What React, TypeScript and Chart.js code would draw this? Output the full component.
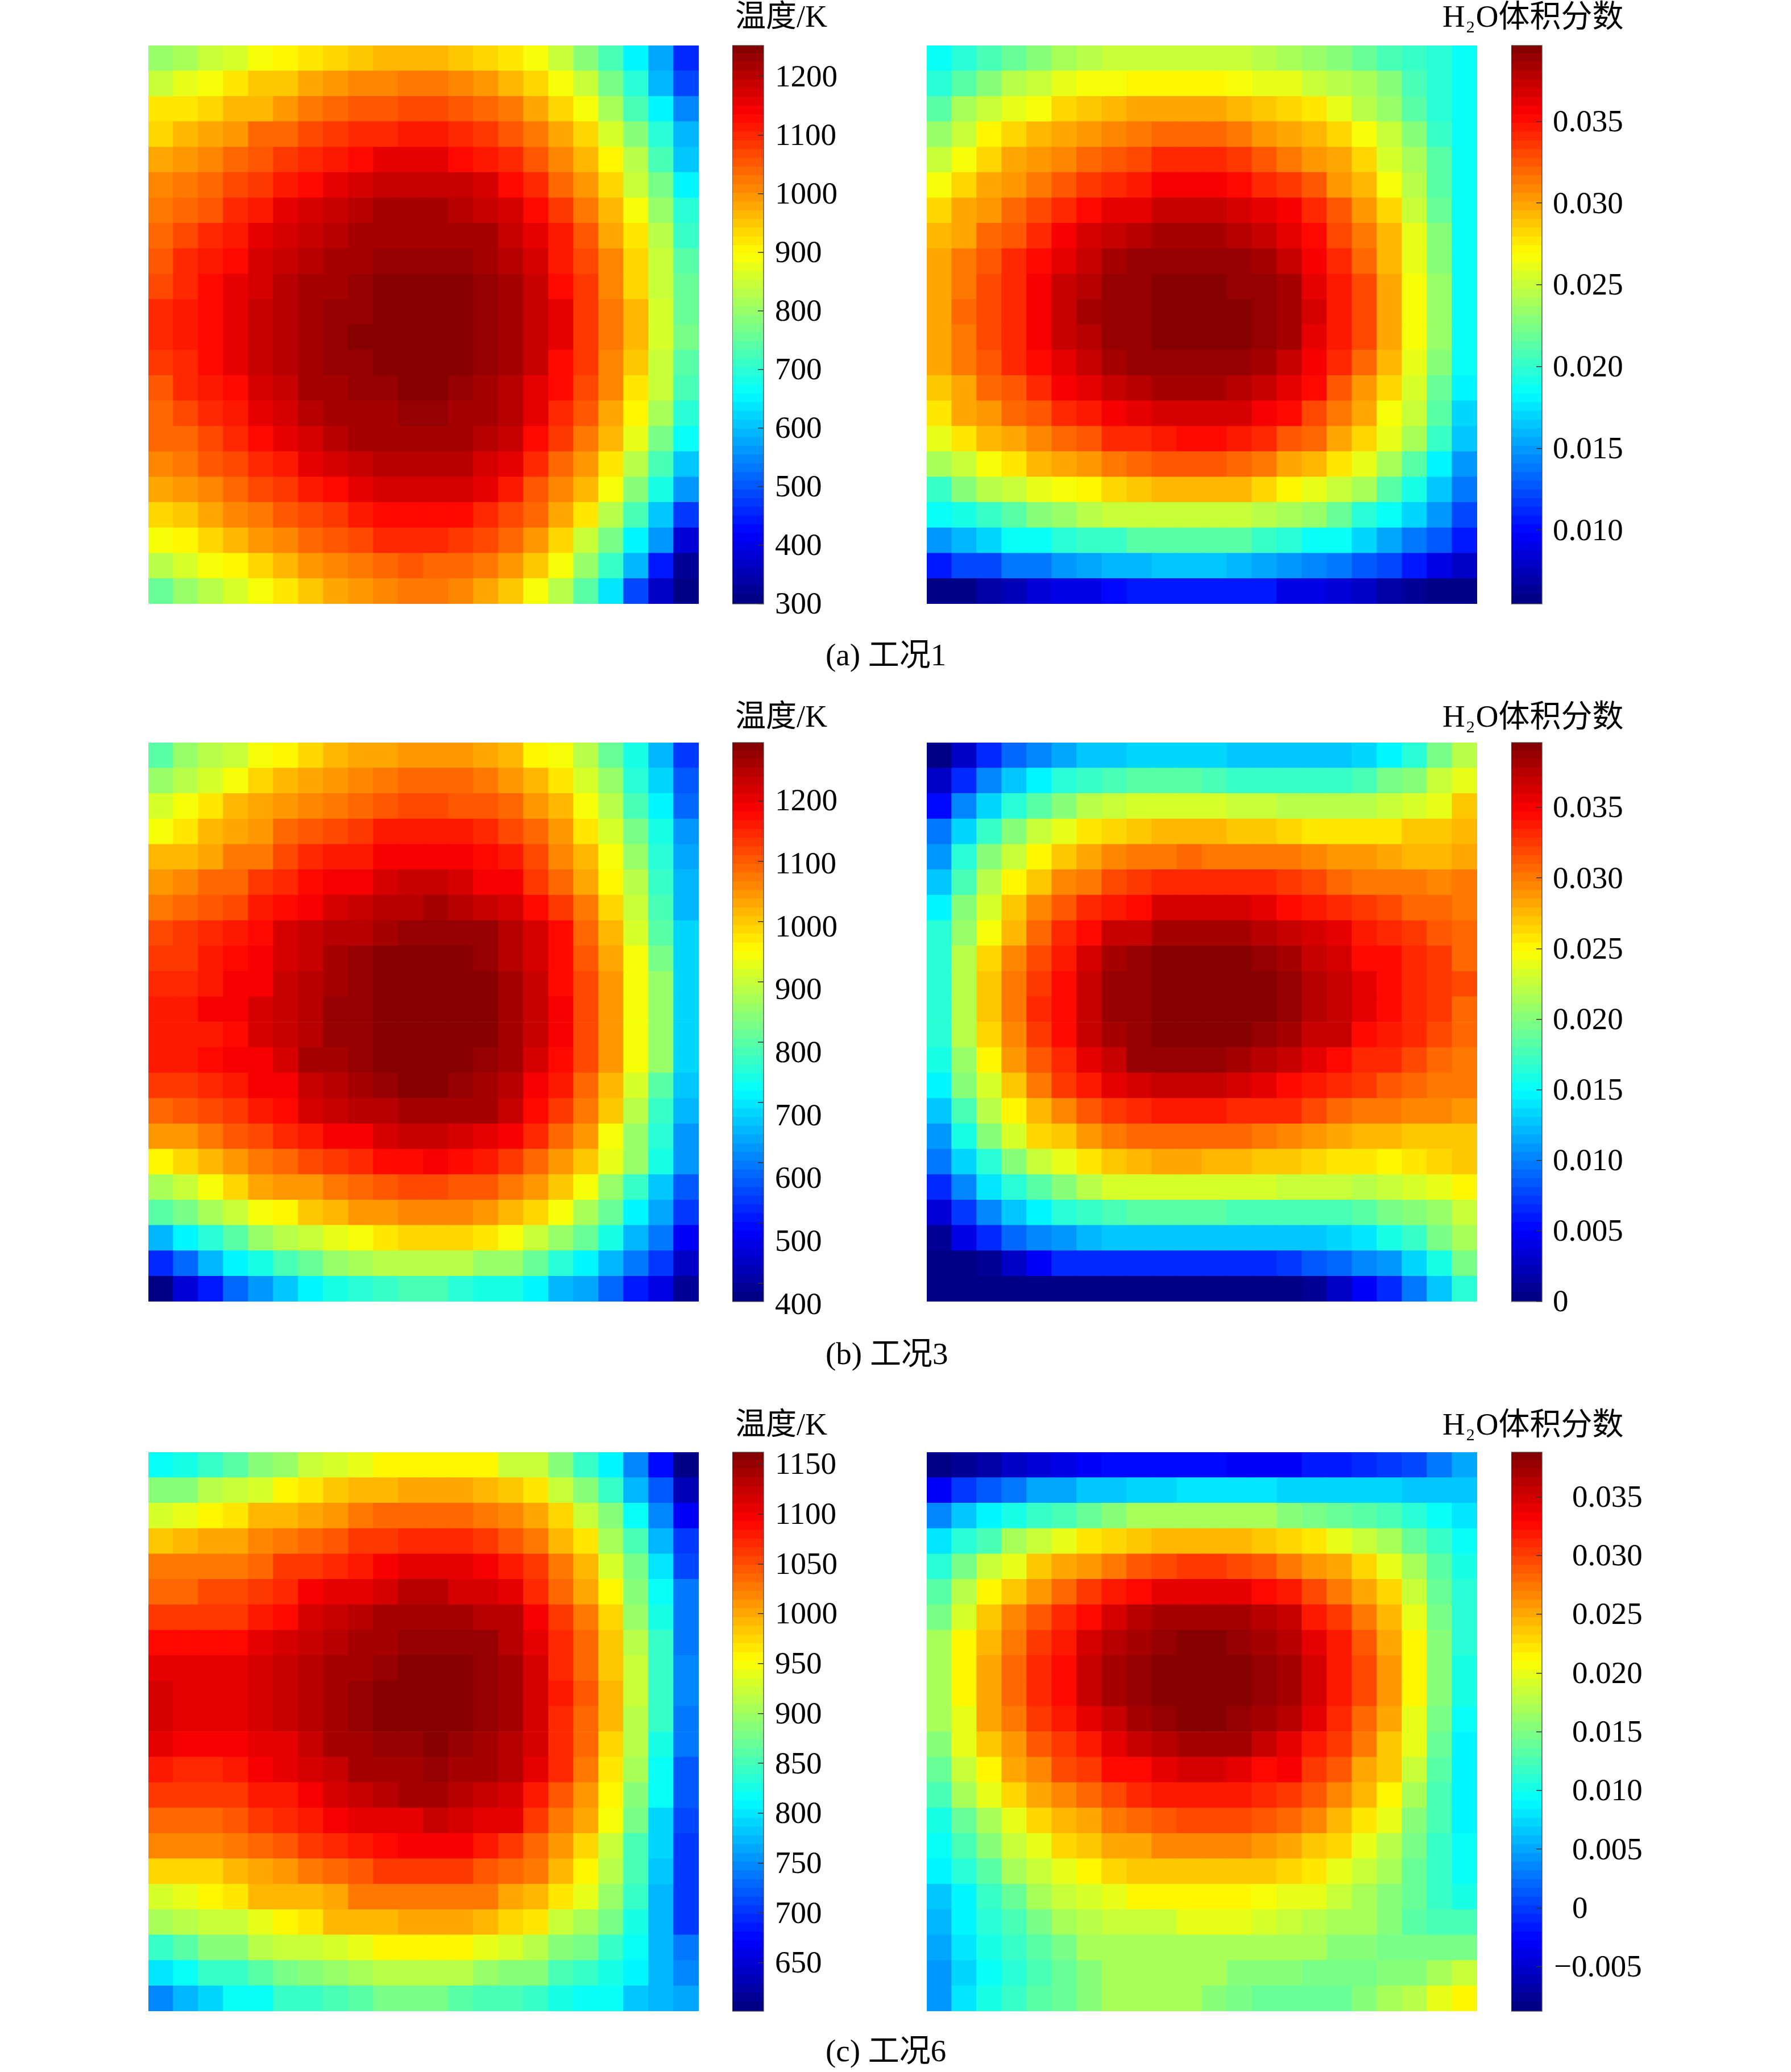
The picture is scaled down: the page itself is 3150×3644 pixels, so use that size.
import React, { useEffect, useRef } from "react";
import { Chart, registerables } from "chart.js";

Chart.register(...registerables);

// Temperature in K, rows listed top to bottom, columns left to right
const tempCase1 = [
  [805,815,845,860,885,900,925,935,950,960,960,960,950,935,925,895,850,790,725,657,570,455],
  [845,880,895,915,945,950,975,990,1000,1010,1025,1025,1010,990,960,935,895,850,775,690,590,490],
  [915,925,935,955,965,985,1020,1030,1045,1045,1060,1060,1045,1035,1020,975,935,895,815,725,657,540],
  [935,955,975,990,1030,1040,1060,1075,1090,1090,1115,1115,1095,1075,1045,1020,975,935,865,790,690,585],
  [975,990,1010,1040,1050,1080,1095,1115,1130,1150,1150,1150,1133,1115,1095,1050,1005,955,910,825,725,610],
  [1000,1015,1040,1060,1080,1115,1133,1150,1165,1180,1180,1180,1180,1165,1133,1095,1040,990,935,850,775,650],
  [1020,1040,1055,1095,1115,1150,1165,1180,1195,1208,1208,1208,1195,1180,1165,1133,1075,1020,960,895,805,690],
  [1040,1060,1095,1115,1150,1165,1180,1195,1208,1215,1215,1215,1215,1215,1190,1160,1115,1050,975,915,830,705],
  [1055,1095,1110,1130,1165,1180,1195,1208,1215,1228,1228,1228,1228,1220,1195,1165,1110,1060,1005,930,845,745],
  [1065,1095,1130,1150,1165,1195,1208,1220,1230,1250,1250,1250,1240,1235,1208,1180,1130,1075,1005,935,850,760],
  [1100,1110,1133,1150,1180,1195,1208,1230,1230,1250,1250,1250,1250,1235,1208,1180,1150,1085,1020,955,865,760],
  [1100,1110,1130,1150,1180,1195,1222,1232,1245,1250,1250,1250,1250,1235,1208,1180,1150,1085,1020,955,865,770],
  [1075,1095,1133,1150,1180,1195,1215,1225,1235,1250,1250,1250,1250,1235,1208,1180,1133,1075,1010,945,850,745],
  [1055,1095,1115,1133,1165,1180,1208,1220,1230,1230,1250,1250,1230,1220,1205,1160,1133,1060,1010,925,840,725],
  [1040,1070,1095,1115,1150,1165,1195,1208,1220,1220,1232,1232,1220,1208,1195,1150,1095,1050,975,900,820,690],
  [1030,1040,1070,1095,1133,1150,1165,1195,1208,1208,1220,1220,1208,1195,1180,1130,1080,1020,955,875,775,665],
  [1000,1015,1050,1060,1095,1115,1150,1165,1180,1195,1195,1195,1195,1165,1160,1095,1040,990,925,835,725,610],
  [975,985,1010,1035,1065,1080,1115,1133,1150,1165,1165,1165,1165,1150,1115,1055,1005,955,885,790,680,555],
  [930,945,980,1005,1020,1050,1070,1085,1105,1133,1133,1133,1133,1095,1070,1035,980,925,835,725,610,475],
  [895,910,935,955,990,1005,1035,1055,1070,1090,1090,1090,1080,1060,1030,990,935,850,775,655,555,380],
  [835,865,885,900,940,955,985,1005,1020,1040,1045,1040,1040,1020,990,945,895,805,705,585,445,320],
  [760,805,835,865,895,920,945,975,985,1005,1020,1020,1005,975,945,895,835,745,640,490,370,300],
];

// H2O volume fraction in units of 1e-4
const h2oCase1 = [
  [188,197,208,220,226,237,243,248,249,249,249,249,249,246,240,231,226,220,208,204,194,188],
  [198,214,226,243,252,258,263,266,271,272,272,272,268,262,258,252,243,237,226,208,198,183],
  [210,237,250,258,268,280,286,290,295,295,295,295,292,286,280,274,262,246,231,210,198,183],
  [232,252,269,280,290,295,303,308,314,317,317,317,311,305,300,290,280,264,248,226,204,183],
  [250,268,280,295,303,308,319,325,332,338,338,338,333,327,311,303,295,280,254,237,210,183],
  [265,280,295,303,311,325,335,341,346,354,354,354,350,343,333,322,305,290,268,243,214,183],
  [279,295,303,319,332,343,350,360,364,371,371,371,366,360,354,338,322,303,279,250,220,183],
  [292,300,317,327,343,354,366,372,377,383,383,383,378,372,360,350,332,314,290,258,226,183],
  [297,311,322,338,350,360,372,383,386,391,391,391,387,383,372,354,338,320,290,261,226,183],
  [300,314,330,343,354,371,378,388,391,396,396,396,391,386,381,360,344,328,297,264,231,183],
  [300,317,330,343,354,373,383,388,391,396,396,396,396,386,381,366,344,328,297,264,231,183],
  [300,314,330,343,354,371,378,388,391,396,396,396,392,386,381,360,344,328,297,264,231,183],
  [297,311,322,338,350,360,372,383,386,391,391,391,387,383,373,354,338,320,292,258,226,183],
  [289,300,317,327,343,354,360,372,378,383,383,383,380,372,360,350,327,305,279,254,220,178],
  [276,295,303,317,327,338,347,354,360,366,366,366,366,354,350,330,314,295,268,248,214,172],
  [258,274,290,295,308,319,327,338,343,347,350,350,347,338,327,317,297,280,258,237,204,162],
  [240,252,264,276,290,297,305,311,319,325,325,325,320,314,300,290,276,258,237,210,178,146],
  [204,226,243,250,258,268,271,280,286,292,292,292,290,280,271,261,250,237,210,192,162,135],
  [183,192,203,214,226,231,243,248,252,252,252,252,250,246,237,231,220,198,183,170,146,124],
  [146,157,167,183,188,194,199,204,210,210,210,210,210,204,194,188,183,170,151,140,129,108],
  [108,119,124,135,140,146,151,157,157,162,162,162,157,154,146,143,140,129,119,108,92,80],
  [55,60,66,75,85,87,92,100,104,108,108,108,108,104,92,87,85,80,66,62,60,57],
];

const tempCase3 = [
  [804,848,877,905,935,957,992,1007,1022,1030,1036,1036,1036,1022,1007,957,935,877,818,746,645,543],
  [862,891,920,949,992,1007,1022,1050,1058,1072,1080,1080,1080,1065,1036,1007,970,920,848,760,680,572],
  [920,935,970,1007,1030,1036,1058,1072,1087,1101,1116,1116,1101,1094,1080,1050,1015,949,877,789,703,586],
  [945,978,1007,1022,1050,1080,1094,1116,1130,1152,1152,1152,1152,1138,1109,1080,1036,978,920,833,732,623],
  [1007,1015,1030,1065,1072,1109,1138,1152,1160,1181,1195,1195,1181,1167,1152,1109,1058,1007,949,862,760,631],
  [1036,1058,1080,1087,1123,1138,1167,1181,1195,1210,1225,1225,1212,1195,1181,1130,1087,1030,957,877,775,645],
  [1072,1087,1101,1116,1152,1167,1181,1212,1230,1246,1246,1262,1246,1230,1212,1167,1123,1065,992,898,789,659],
  [1109,1123,1138,1152,1167,1210,1230,1239,1246,1262,1268,1268,1268,1268,1239,1210,1167,1087,1015,912,804,688],
  [1130,1130,1152,1167,1181,1212,1230,1262,1268,1283,1283,1283,1283,1270,1246,1212,1167,1101,1030,942,833,688],
  [1145,1145,1160,1181,1195,1230,1246,1262,1268,1283,1297,1297,1297,1285,1262,1230,1167,1116,1036,942,848,688],
  [1160,1160,1181,1195,1212,1230,1246,1268,1270,1297,1297,1297,1297,1285,1262,1235,1181,1116,1036,935,862,688],
  [1152,1160,1160,1175,1212,1230,1246,1268,1270,1290,1297,1297,1297,1285,1262,1235,1181,1116,1036,935,862,688],
  [1152,1152,1167,1181,1195,1212,1255,1262,1270,1285,1297,1297,1285,1270,1255,1212,1167,1116,1050,935,848,688],
  [1123,1123,1138,1152,1181,1195,1230,1246,1262,1270,1285,1285,1270,1262,1246,1195,1152,1087,1015,920,804,665],
  [1087,1101,1116,1130,1160,1167,1212,1230,1239,1246,1262,1262,1262,1255,1230,1167,1123,1065,1000,884,775,645],
  [1036,1050,1072,1101,1116,1138,1152,1181,1195,1212,1230,1230,1212,1205,1181,1138,1087,1036,949,862,760,623],
  [957,992,1007,1036,1065,1087,1109,1130,1145,1167,1167,1181,1167,1152,1123,1087,1043,1000,928,848,732,616],
  [870,898,935,992,1022,1036,1050,1072,1080,1101,1116,1116,1101,1094,1072,1036,1000,942,862,775,673,572],
  [804,833,870,898,935,957,1000,1015,1036,1050,1058,1058,1058,1043,1015,985,935,870,818,710,631,543],
  [659,717,760,804,848,877,898,928,949,970,985,985,985,970,935,898,862,818,746,659,601,473],
  [528,586,645,703,746,789,818,848,870,884,891,891,877,862,848,818,760,717,659,601,543,440],
  [370,445,500,586,616,665,717,746,760,775,789,789,760,746,732,717,659,631,586,514,465,385],
];

const h2oCase3 = [
  [0,30,62,87,105,115,127,127,133,130,130,130,127,124,124,124,127,133,148,167,192,220],
  [28,68,102,124,148,161,173,179,185,185,185,179,173,173,173,173,173,179,192,204,223,241],
  [55,102,133,167,185,204,217,223,229,229,229,229,226,223,217,217,217,217,223,229,241,266],
  [93,136,173,198,223,241,254,263,269,275,275,275,269,269,263,254,254,254,254,266,272,278],
  [111,161,198,223,248,272,281,291,300,303,309,303,303,297,297,291,285,285,281,278,278,281],
  [127,179,217,248,272,291,303,316,322,331,331,331,331,328,322,316,309,303,303,297,294,297],
  [148,198,229,266,294,312,328,340,343,359,359,359,359,353,346,340,334,322,316,309,309,303],
  [161,210,245,278,306,334,346,366,371,381,381,381,381,374,366,359,353,340,328,322,312,306],
  [167,217,260,291,319,337,360,381,384,390,390,390,390,384,381,366,363,346,346,328,322,306],
  [167,220,266,297,322,346,368,384,387,396,396,396,396,393,387,376,366,356,346,328,322,316],
  [167,220,266,297,331,346,368,384,387,396,396,396,396,393,387,376,366,356,346,328,322,309],
  [167,217,260,294,322,346,368,382,384,390,396,390,390,384,382,368,366,346,340,328,316,309],
  [155,210,248,285,312,334,353,366,384,387,387,387,381,376,366,353,346,334,328,316,309,303],
  [148,198,235,266,297,322,340,353,360,366,366,366,361,353,346,340,328,322,312,306,300,297],
  [127,179,220,248,278,294,312,325,334,340,340,340,334,334,328,316,309,303,297,291,291,285],
  [108,155,198,229,260,272,288,300,309,309,309,309,309,303,294,288,281,278,278,272,272,272],
  [93,136,167,198,223,241,257,269,275,281,281,275,275,269,269,263,254,254,248,257,260,266],
  [68,102,139,167,185,204,217,229,232,235,235,235,229,229,226,226,226,217,223,229,238,248],
  [37,74,102,124,148,161,173,179,185,185,185,185,179,179,179,179,179,185,192,198,210,226],
  [12,40,68,87,99,108,120,127,127,127,127,127,127,127,127,127,133,142,155,173,192,214],
  [0,0,12,25,44,62,68,68,68,68,68,68,68,68,71,81,87,102,111,130,155,192],
  [0,0,0,0,0,0,0,0,0,0,0,0,0,0,6,12,28,48,68,93,124,161],
];

const tempCase6 = [
  [820,829,846,864,882,899,917,930,942,952,960,960,960,955,925,917,890,846,803,746,680,601],
  [882,890,908,921,934,952,965,982,987,995,1004,1004,1004,995,982,965,921,890,846,776,724,635],
  [930,942,952,969,987,991,1004,1013,1030,1035,1039,1039,1039,1030,1018,1000,973,921,882,812,750,663],
  [982,991,1000,1004,1018,1026,1039,1048,1057,1065,1074,1074,1074,1065,1048,1030,995,965,903,855,776,698],
  [1022,1022,1022,1030,1039,1057,1065,1074,1083,1092,1101,1101,1101,1092,1078,1057,1022,987,930,873,798,715],
  [1039,1039,1052,1052,1065,1074,1092,1101,1109,1118,1127,1127,1118,1110,1109,1074,1035,1004,952,890,812,733],
  [1065,1065,1065,1065,1078,1088,1110,1120,1127,1136,1144,1144,1140,1130,1127,1092,1057,1022,978,899,829,741],
  [1088,1088,1088,1088,1101,1110,1120,1127,1140,1144,1153,1153,1153,1148,1131,1101,1074,1035,982,908,838,741],
  [1109,1101,1101,1101,1110,1120,1130,1140,1144,1153,1162,1162,1162,1153,1140,1110,1074,1035,982,917,846,746],
  [1118,1109,1109,1109,1118,1123,1127,1144,1148,1162,1162,1162,1162,1153,1138,1110,1078,1043,987,917,846,746],
  [1118,1109,1109,1109,1118,1123,1130,1140,1153,1157,1162,1162,1162,1153,1138,1110,1074,1035,987,912,838,733],
  [1109,1092,1092,1092,1101,1109,1123,1138,1144,1153,1153,1162,1153,1144,1131,1110,1074,1035,973,908,829,741],
  [1083,1074,1074,1083,1092,1101,1110,1120,1138,1144,1144,1153,1144,1140,1127,1101,1074,1030,969,903,820,724],
  [1061,1057,1057,1065,1078,1083,1092,1110,1120,1127,1136,1136,1127,1120,1110,1083,1048,1013,960,890,812,724],
  [1035,1035,1035,1048,1061,1069,1078,1092,1101,1109,1109,1123,1118,1109,1101,1065,1030,1000,943,873,794,715],
  [1018,1018,1018,1026,1035,1048,1061,1069,1078,1088,1092,1092,1092,1083,1065,1039,1009,973,921,855,790,706],
  [978,978,978,991,1000,1013,1030,1039,1048,1057,1065,1065,1057,1048,1039,1022,991,952,908,855,781,702],
  [934,942,952,969,987,991,995,1004,1022,1022,1030,1030,1030,1022,1004,987,969,938,899,838,772,706],
  [903,908,917,921,942,952,965,987,991,991,1000,1000,1000,991,973,965,925,903,873,829,768,706],
  [846,864,882,890,908,917,921,930,942,955,955,955,955,942,930,912,890,873,838,812,768,733],
  [798,812,838,846,864,873,890,899,903,908,908,908,908,899,890,882,855,846,829,803,776,750],
  [750,768,794,812,820,838,846,855,864,873,873,873,864,855,855,846,829,820,812,785,776,763],
];

const h2oCase6 = [
  [-88,-80,-70,-58,-50,-38,-35,-28,-28,-28,-28,-28,-35,-35,-35,-20,-14,-7,1,8,27,46],
  [-30,1,16,31,46,53,65,65,72,72,83,83,83,83,75,75,75,75,75,68,68,65],
  [35,61,90,105,120,127,142,157,165,165,172,172,165,165,157,150,142,135,127,112,97,83],
  [83,112,127,165,184,202,217,228,236,243,243,243,243,236,228,217,202,184,165,142,120,97],
  [112,150,180,202,236,247,258,269,288,292,299,299,292,284,273,258,247,228,202,172,135,105],
  [135,176,210,239,258,277,303,318,324,336,336,336,336,328,314,295,273,250,228,184,142,112],
  [150,191,239,262,284,307,328,345,362,369,369,369,369,362,354,321,299,269,243,199,150,112],
  [165,210,243,269,299,318,345,362,373,380,388,388,380,373,364,336,314,284,250,210,157,112],
  [168,210,250,277,307,328,352,367,380,388,388,388,388,380,367,345,321,292,258,210,157,105],
  [168,210,250,277,307,328,352,367,380,388,388,388,388,380,367,345,321,292,258,210,157,105],
  [165,202,247,273,299,318,343,358,373,376,383,383,376,373,362,336,310,280,250,202,150,97],
  [157,195,232,258,284,303,321,343,354,364,369,369,369,354,343,321,303,273,236,195,142,90],
  [142,184,210,247,265,292,303,324,328,336,345,345,343,328,335,303,288,254,232,184,135,87],
  [127,165,195,225,247,265,280,295,310,314,321,321,314,310,303,284,262,243,210,168,127,90],
  [105,142,172,202,225,243,254,269,277,284,292,292,292,288,280,262,243,221,199,157,127,90],
  [97,127,157,184,202,225,239,250,254,265,265,265,265,258,250,239,228,202,176,150,120,97],
  [87,112,135,165,184,195,210,225,236,236,239,239,239,232,225,217,202,184,172,142,120,97],
  [65,90,120,142,165,184,191,202,210,210,210,210,210,208,202,195,187,172,157,142,120,105],
  [57,90,112,127,150,165,176,184,187,187,195,195,195,191,184,176,165,165,157,135,127,127],
  [46,79,105,120,135,150,165,168,172,172,172,172,172,172,165,165,157,157,150,150,150,150],
  [42,72,97,112,127,142,157,165,165,165,165,165,157,157,157,150,150,150,157,157,168,184],
  [42,79,105,120,135,142,157,165,165,165,165,157,150,142,142,142,142,157,165,176,195,210],
];

// Colour bars: scale range, tick values and tick labels
const tempRange1 = [300, 1252.6];
const tempTicks1 = [300, 400, 500, 600, 700, 800, 900, 1000, 1100, 1200];
const tempLabels1 = ["300", "400", "500", "600", "700", "800", "900", "1000", "1100", "1200"];
const h2oRange1 = [54.8, 396.4];
const h2oTicks1 = [100, 150, 200, 250, 300, 350];
const h2oLabels1 = ["0.010", "0.015", "0.020", "0.025", "0.030", "0.035"];
const tempRange3 = [369.6, 1296.7];
const tempTicks3 = [400, 500, 600, 700, 800, 900, 1000, 1100, 1200];
const tempLabels3 = ["400", "500", "600", "700", "800", "900", "1000", "1100", "1200"];
const tempLabelRange3 = [403.7, 1292];
const h2oRange3 = [0, 395.9];
const h2oTicks3 = [0, 50, 100, 150, 200, 250, 300, 350];
const h2oLabels3 = ["0", "0.005", "0.010", "0.015", "0.020", "0.025", "0.030", "0.035"];
const tempRange6 = [601.5, 1161.9];
const tempTicks6 = [650, 700, 750, 800, 850, 900, 950, 1000, 1050, 1100, 1150];
const tempLabels6 = ["650", "700", "750", "800", "850", "900", "950", "1000", "1050", "1100", "1150"];
const h2oRange6 = [-87.8, 387.9];
const h2oTicks6 = [-50, 0, 50, 100, 150, 200, 250, 300, 350];
const ALIGN = "\u2002\u200a";
const h2oLabels6 = ["\u22120.005", ALIGN + "0", ALIGN + "0.005", ALIGN + "0.010", ALIGN + "0.015", ALIGN + "0.020", ALIGN + "0.025", ALIGN + "0.030", ALIGN + "0.035"];

const LEVELS = 64;
const SERIF = '"Liberation Serif", "Noto Sans CJK SC", serif';

function jet(level: number) {
  const t = (level + 0.5) / LEVELS;
  const ch = (c: number) => Math.round(255 * Math.min(1, Math.max(0, 1.5 - Math.abs(4 * t - c))));
  return `rgb(${ch(3)},${ch(2)},${ch(1)})`;
}

function levelOf(v: number, lo: number, hi: number) {
  return Math.min(LEVELS - 1, Math.max(0, Math.floor(((v - lo) / (hi - lo)) * LEVELS)));
}

function HeatMap({ grid, range, left, top, width, height }: any) {
  const ref = useRef<HTMLCanvasElement>(null);
  useEffect(() => {
    const points: any[] = [];
    const colors: string[] = [];
    grid.forEach((row: number[], r: number) =>
      row.forEach((v: number, c: number) => {
        points.push({ x: c + 0.5, y: r + 0.5 });
        colors.push(jet(levelOf(v, range[0], range[1])));
      })
    );
    const side = Math.max(width / grid[0].length, height / grid.length) + 0.7;
    const chart = new Chart(ref.current as HTMLCanvasElement, {
      type: "scatter",
      data: {
        datasets: [
          {
            data: points,
            pointStyle: "rect",
            pointRadius: (side / 2) * Math.SQRT2,
            pointBorderWidth: 0,
            pointBackgroundColor: colors,
          } as any,
        ],
      },
      options: {
        animation: false,
        responsive: false,
        devicePixelRatio: 1,
        layout: { padding: 0, autoPadding: false },
        plugins: { legend: { display: false }, tooltip: { enabled: false } },
        scales: {
          x: { type: "linear", min: 0, max: grid[0].length, display: false },
          y: { type: "linear", min: 0, max: grid.length, reverse: true, display: false },
        },
      },
    });
    return () => chart.destroy();
  }, []);
  return <canvas ref={ref} width={width} height={height} style={{ position: "absolute", left, top, width, height }} />;
}

const framePlugin = {
  id: "frame",
  afterDraw(chart: any) {
    const { ctx, chartArea: a } = chart;
    ctx.save();
    ctx.strokeStyle = "rgba(70,70,70,0.85)";
    ctx.lineWidth = 1.5;
    ctx.strokeRect(a.left, a.top, a.right - a.left, a.bottom - a.top);
    ctx.restore();
  },
};

const MARGIN = 60;
const LABEL_W = 200;
const LABEL_DROP = 3;

function ColorBar({ range, ticks, labels, labelRange, left, top, width, height, padding }: any) {
  const ref = useRef<HTMLCanvasElement>(null);
  const lr0 = labelRange || range;
  const drop = (LABEL_DROP * (lr0[1] - lr0[0])) / height;
  const lr = [lr0[0] + drop, lr0[1] + drop];
  useEffect(() => {
    const step = (range[1] - range[0]) / LEVELS;
    const datasets = Array.from({ length: LEVELS }, (_, k) => ({
      data: [[range[0] + k * step, range[0] + (k + 1.1) * step]],
      backgroundColor: jet(k),
      borderWidth: 0,
      grouped: false,
      barPercentage: 1,
      categoryPercentage: 1,
      yAxisID: "y",
    }));
    const setTicks = (s: any) => {
      s.ticks = ticks.map((value: number) => ({ value }));
    };
    const chart = new Chart(ref.current as HTMLCanvasElement, {
      type: "bar",
      data: { labels: [""], datasets: datasets as any },
      options: {
        animation: false,
        responsive: false,
        devicePixelRatio: 1,
        layout: { padding: { top: MARGIN, bottom: MARGIN, left: 0, right: 0 }, autoPadding: false },
        plugins: { legend: { display: false }, tooltip: { enabled: false } },
        scales: {
          x: { display: false },
          y: {
            type: "linear",
            position: "right",
            weight: 0,
            min: range[0],
            max: range[1],
            afterBuildTicks: setTicks,
            afterFit: (s: any) => {
              s.width = 0;
            },
            border: { display: false },
            ticks: { display: false, autoSkip: false },
            grid: { z: 1, drawOnChartArea: false, tickLength: -10, color: "#333", lineWidth: 1.5 },
          },
          yl: {
            axis: "y",
            type: "linear",
            position: "right",
            weight: 1,
            min: lr[0],
            max: lr[1],
            afterBuildTicks: setTicks,
            afterFit: (s: any) => {
              s.width = LABEL_W;
            },
            border: { display: false },
            grid: { display: false, drawTicks: false },
            ticks: {
              autoSkip: false,
              padding,
              color: "#000",
              font: { family: SERIF, size: 55 },
              maxRotation: 0,
              callback: (_v: any, i: number) => labels[i],
            },
          },
        } as any,
      },
      plugins: [framePlugin],
    });
    return () => chart.destroy();
  }, []);
  return (
    <canvas
      ref={ref}
      width={width + LABEL_W}
      height={height + 2 * MARGIN}
      style={{ position: "absolute", left, top: top - MARGIN, width: width + LABEL_W, height: height + 2 * MARGIN }}
    />
  );
}

const textStyle: React.CSSProperties = {
  position: "absolute",
  fontFamily: SERIF,
  fontSize: 54,
  lineHeight: "54px",
  color: "#000",
  whiteSpace: "nowrap",
};

function H2OTitle({ top }: { top: number }) {
  return (
    <div style={{ ...textStyle, fontSize: 55, left: 2537, top }}>
      H<span style={{ fontSize: 30, position: "relative", top: 10, margin: "0 2px" }}>2</span>O体积分数
    </div>
  );
}

const ROWS = [
  { top: 80, height: 982, titleTop: 2, captionTop: 1125, caption: "(a) 工况1", temp: tempCase1, h2o: h2oCase1, tr: tempRange1, tt: tempTicks1, tl: tempLabels1, tlr: null, hr: h2oRange1, ht: h2oTicks1, hl: h2oLabels1, hp: 19 },
  { top: 1306, height: 983, titleTop: 1233, captionTop: 2354, caption: "(b) 工况3", temp: tempCase3, h2o: h2oCase3, tr: tempRange3, tt: tempTicks3, tl: tempLabels3, tlr: tempLabelRange3, hr: h2oRange3, ht: h2oTicks3, hl: h2oLabels3, hp: 19 },
  { top: 2554, height: 983, titleTop: 2478, captionTop: 3580, caption: "(c) 工况6", temp: tempCase6, h2o: h2oCase6, tr: tempRange6, tt: tempTicks6, tl: tempLabels6, tlr: null, hr: h2oRange6, ht: h2oTicks6, hl: h2oLabels6, hp: 21 },
];

export default function App() {
  return (
    <div style={{ position: "absolute", left: 0, top: 0, width: 3150, height: 3644, background: "#fff", overflow: "hidden" }}>
      {ROWS.map((r) => (
        <React.Fragment key={r.caption}>
          <HeatMap grid={r.temp} range={r.tr} left={261} top={r.top} width={968} height={r.height} />
          <ColorBar range={r.tr} ticks={r.tt} labels={r.tl} labelRange={r.tlr} left={1288} top={r.top} width={55} height={r.height} padding={20} />
          <HeatMap grid={r.h2o} range={r.hr} left={1630} top={r.top} width={968} height={r.height} />
          <ColorBar range={r.hr} ticks={r.ht} labels={r.hl} left={2658} top={r.top} width={54} height={r.height} padding={r.hp} />
          <div style={{ ...textStyle, left: 1293, top: r.titleTop }}>温度/K</div>
          <H2OTitle top={r.titleTop} />
          <div style={{ ...textStyle, fontSize: 55, left: 1452, top: r.captionTop }}>{r.caption}</div>
        </React.Fragment>
      ))}
    </div>
  );
}
